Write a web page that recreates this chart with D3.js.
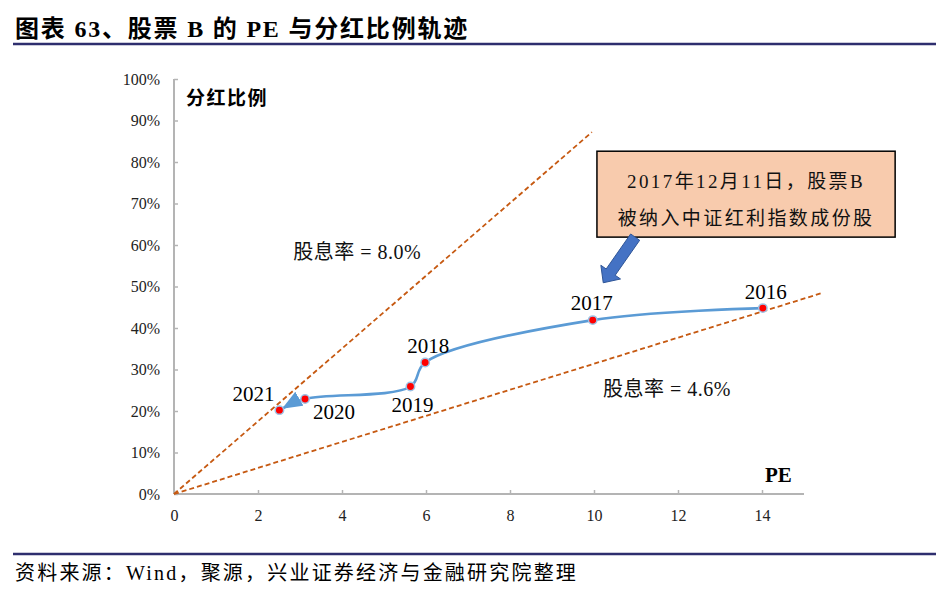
<!DOCTYPE html>
<html><head><meta charset="utf-8">
<script src="https://cdn.jsdelivr.net/npm/d3@7/dist/d3.min.js"></script>
<style>
body{margin:0;background:#fff;}
svg text{font-family:"Liberation Serif","Noto Sans CJK SC",serif;}
</style></head>
<body><svg id="c" width="951" height="591"></svg>
<script>
// ---- data ----
const years = ["2016","2017","2018","2019","2020","2021"];
const peValues = [14.02, 9.97, 5.98, 5.63, 3.12, 2.51];
const payoutValues = [0.448, 0.419, 0.317, 0.259, 0.229, 0.202];
const xTicks = [0,2,4,6,8,10,12,14];
const yTicks = [0,0.1,0.2,0.3,0.4,0.5,0.6,0.7,0.8,0.9,1.0];
const yieldLabels = ["股息率 = 8.0%","股息率 = 4.6%"];
const yieldLineEndPE = [9.95, 15.45];
const yieldLineEndPayout = [0.872, 0.485];
const yieldLabelPE = [4.36, 11.74];
const yieldLabelPayout = [0.583, 0.253];
const noteLines = ["2017年12月11日，股票B","被纳入中证红利指数成份股"];
const notePE = [10.07, 17.17];
const notePayout = [0.619, 0.826];
const noteArrowPE = [10.98, 10.22];
const noteArrowPayout = [0.619, 0.509];
const title = "图表 63、股票 B 的 PE 与分红比例轨迹";
const source = "资料来源：Wind，聚源，兴业证券经济与金融研究院整理";
const yTitle = "分红比例";
const xTitle = "PE";

// ---- layout ----
const svg = d3.select("#c");
const x = d3.scaleLinear().domain([0,15]).range([174,804]);
const y = d3.scaleLinear().domain([0,1]).range([494,79]);
const labelOffsets = [[3,-16],[-1,-17],[3,-16],[2,18],[29,13],[-26,-16]];

// title & rules
svg.append("text").attr("x",15).attr("y",37).attr("font-size",24).attr("font-weight","bold")
  .attr("letter-spacing",1.8).attr("fill","#000").text(title);
svg.append("line").attr("x1",13).attr("x2",936).attr("y1",44).attr("y2",44)
  .attr("stroke","#2e2e6e").attr("stroke-width",2.5);
svg.append("line").attr("x1",13).attr("x2",936).attr("y1",554).attr("y2",554)
  .attr("stroke","#2e2e6e").attr("stroke-width",2.5);
svg.append("text").attr("x",15).attr("y",580).attr("font-size",20).attr("letter-spacing",2.2)
  .attr("fill","#000").text(source);

// axes
const axisColor = "#b4b4b4";
const gx = svg.append("g").attr("transform",`translate(0,${y(0)})`)
  .call(d3.axisBottom(x).tickValues(xTicks).tickSize(-4).tickPadding(16).tickFormat(d3.format("d")));
const gy = svg.append("g").attr("transform",`translate(${x(0)},0)`)
  .call(d3.axisLeft(y).tickValues(yTicks).tickSize(-4).tickPadding(14).tickFormat(d3.format(".0%")));
[gx,gy].forEach(g=>{
  g.select(".domain").attr("stroke",axisColor).attr("stroke-width",2);
  g.selectAll(".tick line").attr("stroke",axisColor).attr("stroke-width",1.5);
  g.selectAll(".tick text").attr("font-size",16).attr("fill","#222")
    .attr("font-family","Liberation Serif");
});
gx.select(".domain").attr("d",`M${x(0)},0H${x(15)}`);
gy.select(".domain").attr("d",`M0,${y(0)}V${y(1)}`);

svg.append("text").attr("x",186).attr("y",105).attr("font-size",19).attr("font-weight","bold")
  .attr("letter-spacing",1.5).text(yTitle);
svg.append("text").attr("x",765).attr("y",482).attr("font-size",21).attr("font-weight","bold")
  .text(xTitle);

// yield lines
yieldLineEndPE.forEach((pe,i)=>{
  svg.append("line").attr("x1",x(0)).attr("y1",y(0)).attr("x2",x(pe)).attr("y2",y(yieldLineEndPayout[i]))
    .attr("stroke","#c65911").attr("stroke-width",1.8).attr("stroke-dasharray","5,3");
  svg.append("text").attr("x",x(yieldLabelPE[i])).attr("y",y(yieldLabelPayout[i]))
    .attr("text-anchor","middle").attr("dominant-baseline","central")
    .attr("font-size",20).attr("fill","#111").attr("letter-spacing",0.5).text(yieldLabels[i]);
});

// trajectory
const pts = years.map((yr,i)=>({yr,pe:peValues[i],p:payoutValues[i]}));
const defs = svg.append("defs");
defs.append("marker").attr("id","ah").attr("markerUnits","userSpaceOnUse")
  .attr("viewBox","0 0 20 16").attr("markerWidth",20).attr("markerHeight",16)
  .attr("refX",23).attr("refY",8).attr("orient","auto")
  .append("path").attr("d","M0,0L20,8L0,16Z").attr("fill","#5b9bd5");
const line = d3.line().x(d=>x(d.pe)).y(d=>y(d.p)).curve(d3.curveCatmullRom.alpha(0.5));
svg.append("path").datum(pts).attr("d",line).attr("fill","none")
  .attr("stroke","#5b9bd5").attr("stroke-width",2.6).attr("marker-end","url(#ah)");
svg.selectAll("circle.pt").data(pts).join("circle").attr("class","pt")
  .attr("cx",d=>x(d.pe)).attr("cy",d=>y(d.p)).attr("r",4.2)
  .attr("fill","#ff0000").attr("stroke","#9dc3e6").attr("stroke-width",1.5);
svg.selectAll("text.yl").data(pts).join("text").attr("class","yl")
  .attr("x",(d,i)=>x(d.pe)+labelOffsets[i][0]).attr("y",(d,i)=>y(d.p)+labelOffsets[i][1])
  .attr("text-anchor","middle").attr("dominant-baseline","central")
  .attr("font-size",21).attr("fill","#000").text(d=>d.yr);

// annotation box
const bx0=x(notePE[0]), bx1=x(notePE[1]), by0=y(notePayout[1]), by1=y(notePayout[0]);
svg.append("rect").attr("x",bx0).attr("y",by0).attr("width",bx1-bx0).attr("height",by1-by0)
  .attr("fill","#f8cbad").attr("stroke","#000").attr("stroke-width",1.5);
noteLines.forEach((t,i)=>{
  svg.append("text").attr("x",(bx0+bx1)/2).attr("y",by0+30+i*37)
    .attr("text-anchor","middle").attr("dominant-baseline","central")
    .attr("font-size",19).attr("letter-spacing",2.4).attr("fill","#111").text(t);
});

// block arrow
(function(){
  const tx=x(noteArrowPE[0]), ty=y(noteArrowPayout[0]);
  const hx=x(noteArrowPE[1]), hy=y(noteArrowPayout[1]);
  const dx=hx-tx, dy=hy-ty, L=Math.hypot(dx,dy);
  const ux=dx/L, uy=dy/L, nx=-uy, ny=ux;
  const sw=5.5, hw=12, hl=13;
  const bx=hx-ux*hl, by=hy-uy*hl;
  const P=[[tx+nx*sw,ty+ny*sw],[bx+nx*sw,by+ny*sw],[bx+nx*hw,by+ny*hw],[hx,hy],
           [bx-nx*hw,by-ny*hw],[bx-nx*sw,by-ny*sw],[tx-nx*sw,ty-ny*sw]];
  svg.append("path").attr("d","M"+P.map(p=>p.join(",")).join("L")+"Z")
    .attr("fill","#4472c4").attr("stroke","#2f5597").attr("stroke-width",1);
})();
</script></body></html>
